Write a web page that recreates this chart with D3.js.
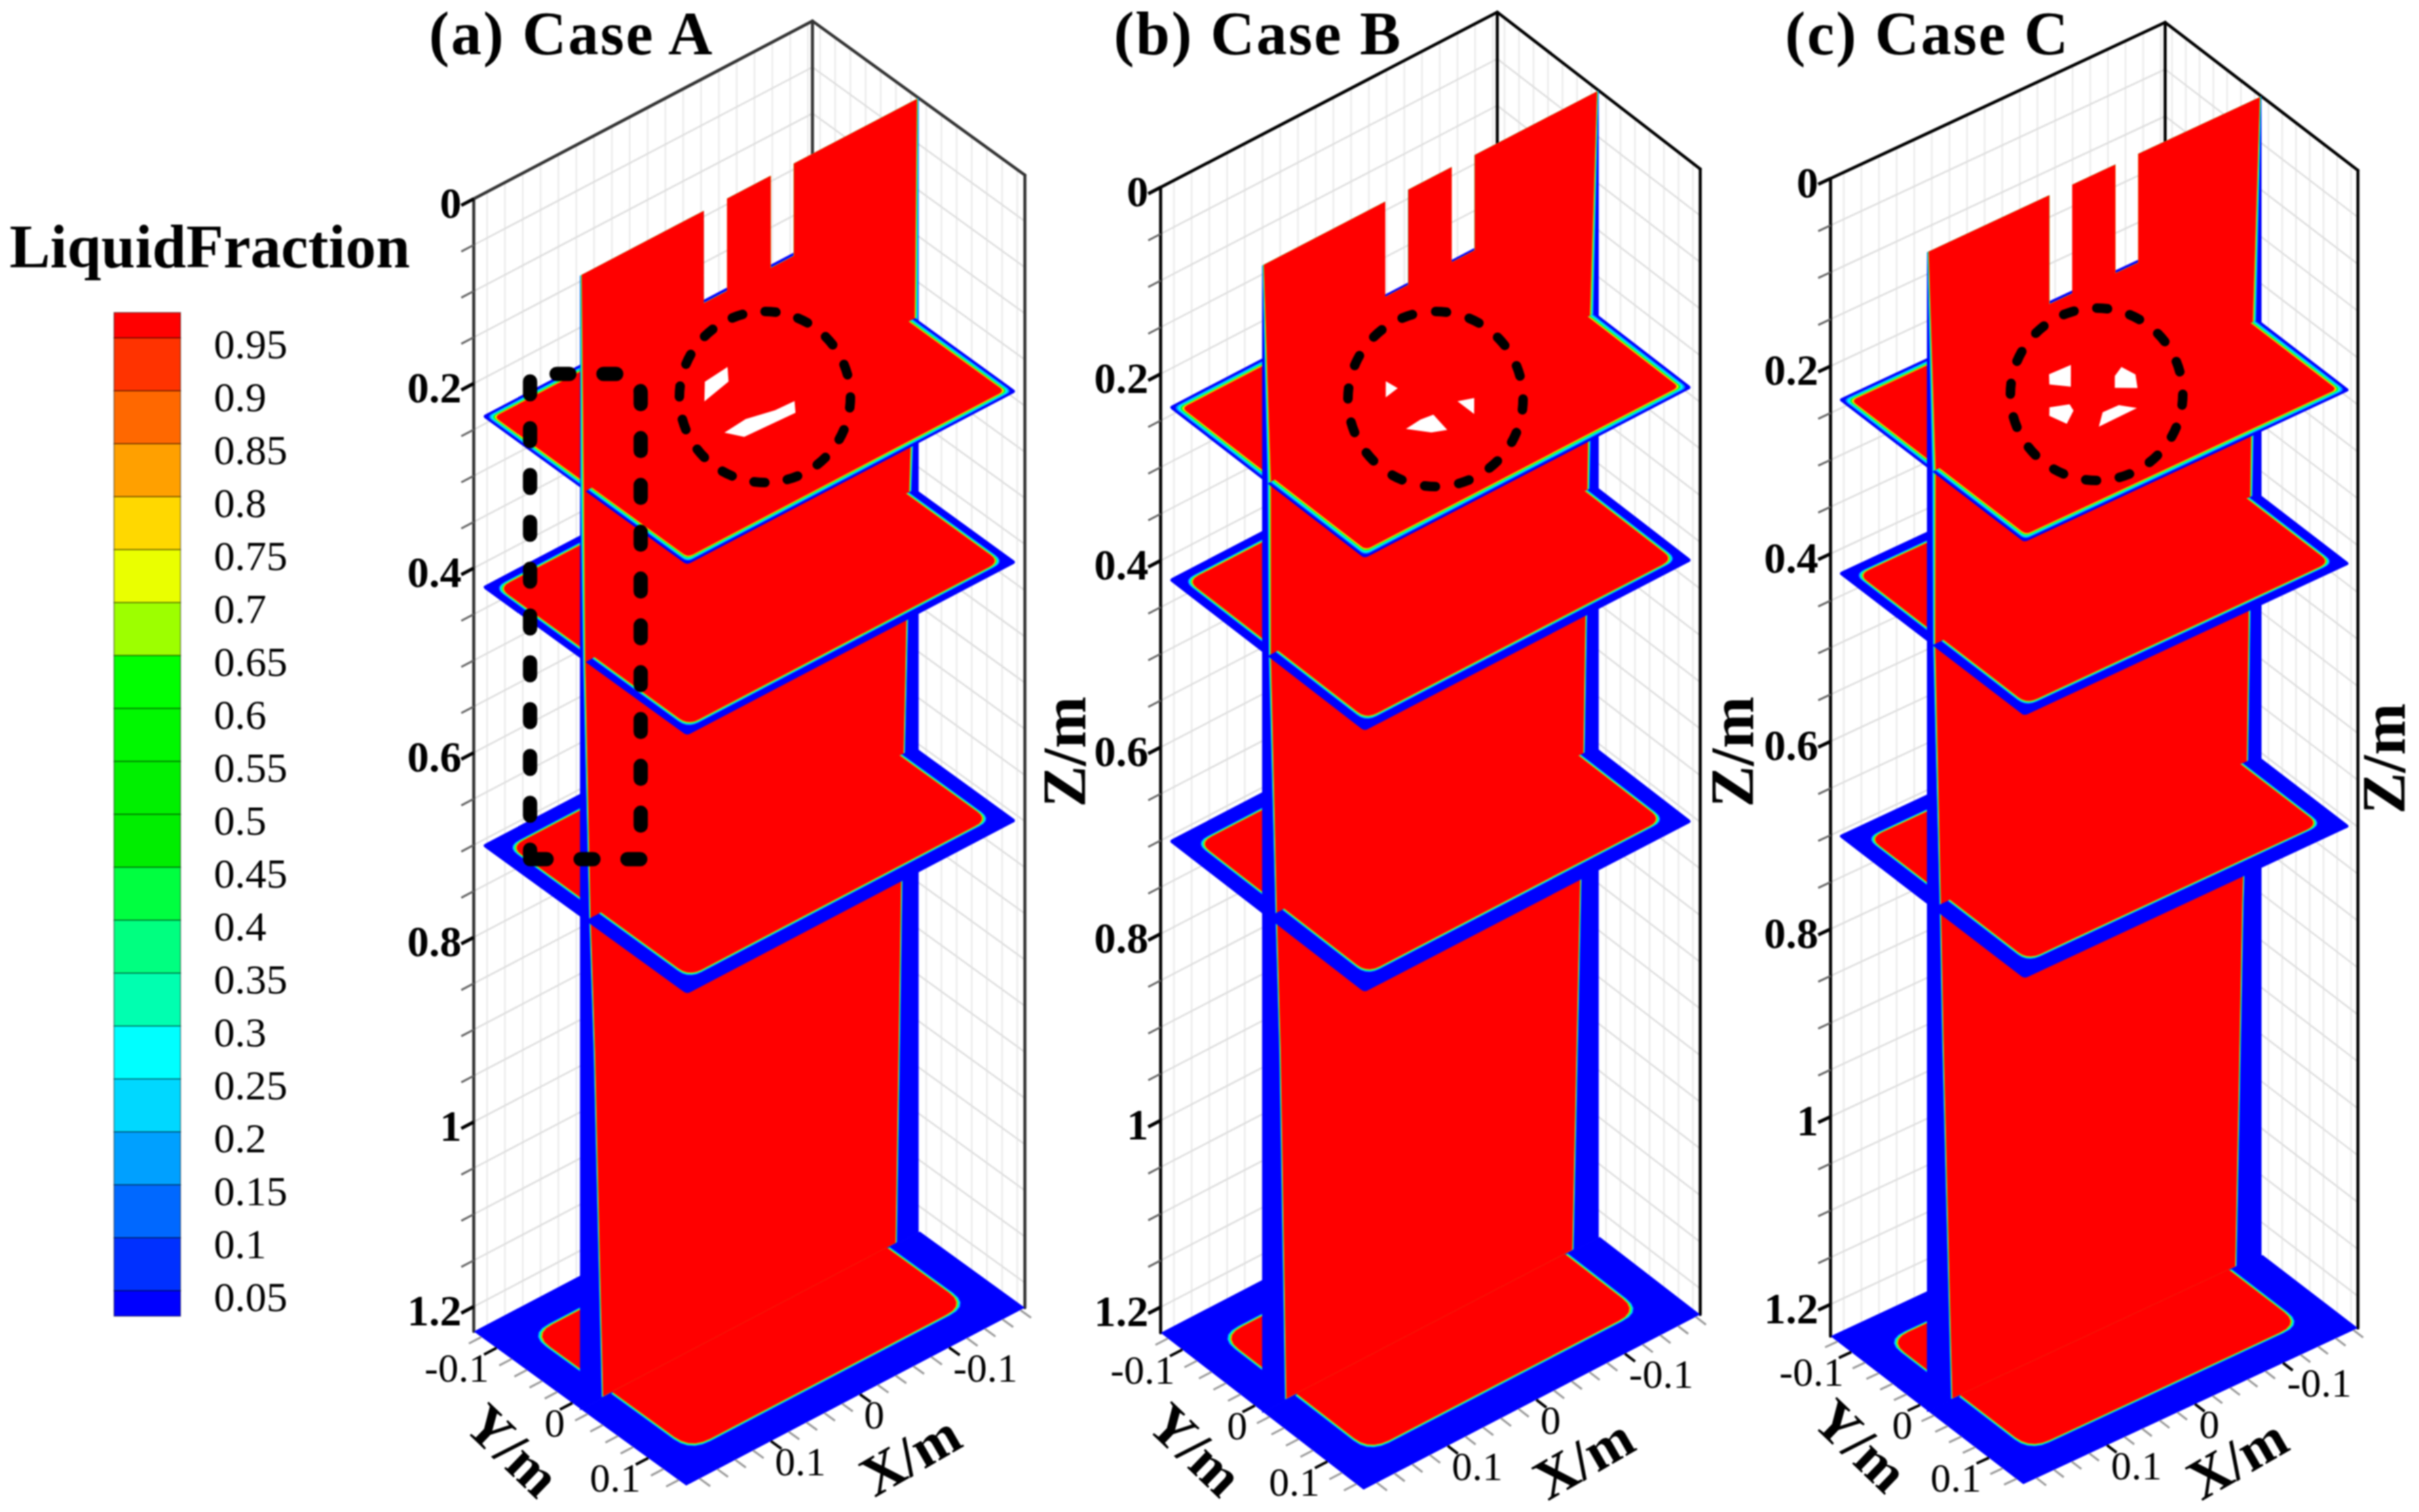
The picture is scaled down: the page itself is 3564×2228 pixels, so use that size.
<!DOCTYPE html>
<html>
<head>
<meta charset="utf-8">
<script src="https://cdn.jsdelivr.net/npm/d3@7"></script>
<style>
    body { margin: 0; background: #fff; }
    svg { filter: blur(0.8px); }
    text { font-family: "Liberation Serif", serif; fill: #000; }
</style>
</head>
<body>
<script>
// legend
const legendLabels = [0.95, 0.9, 0.85, 0.8, 0.75, 0.7, 0.65, 0.6, 0.55, 0.5, 0.45, 0.4, 0.35, 0.3, 0.25, 0.2, 0.15, 0.1, 0.05];
const legendColors = ["#ff0000", "#ff3300", "#ff6800", "#ffa000", "#ffd800", "#eaff00", "#9dff00", "#00ff00", "#00f800",
    "#00f000", "#00ee00", "#00ff40", "#00ff80", "#00ffb0", "#00ffff", "#00d8ff", "#00a0ff", "#0068ff", "#0030ff", "#0000ff"];
// colours crossed going in from the wall to the liquid core
const bandColors = ["#0000ff", "#0068ff", "#00a0ff", "#00d8ff", "#00ffff", "#00ff80", "#00f000", "#eaff00", "#ffa000", "#ff0000"];

// axes
const xMin = -0.185, xMax = 0.195, yMin = -0.13, yMax = 0.15;
const xTicks = [-0.1, 0, 0.1], yTicks = [-0.1, 0, 0.1];
const zTicks = [0, 0.2, 0.4, 0.6, 0.8, 1, 1.2];
const xMinorTicks = d3.range(-0.18, 0.19, 0.02);
const yMinorTicks = d3.range(-0.12, 0.15, 0.02);
const zMinorTicks = d3.range(0, 1.21, 0.05);
const wallXLines = d3.range(-0.18, 0.19, 0.02);
const wallYLines = d3.range(-0.12, 0.15, 0.02);

// the three cases
const caseTitles = ["(a) Case A", "(b) Case B", "(c) Case C"];
const caseTitleX = [632, 1641, 2630];
const caseLeftTop = [[698, 293], [1710, 276], [2697, 263]];
const caseXVec = [[499, -262], [496, -258], [493, -230]];
const caseYVec = [[313, 227], [299, 231], [284, 218]];
const caseHeight = [1669, 1688, 1706];
const caseZMax = [1.227, 1.2276, 1.234];
const caseAxisColor = ["#333", "#000", "#000"];
const caseZLabelPos = [[1568, 1108], [2552, 1108], [3512, 1118]];
const caseXLabelOff = [[330, -45], [324, -46], [315, -38]];
const caseYLabelOff = [[-255, -52], [-247, -59], [-239, -57]];
const caseCircle = [[1127, 585, 126], [2115, 588, 129], [3089, 581, 127]];

// plates: the last one is the bottom of the column
const plateZ = [0.235, 0.42, 0.70];
const plateInset = [0.005, 0.005, 0.005, 0];
const plateRound = [0.006, 0.012, 0.014, 0.022];
const plateBlue = [
    [0.002, 0.0068, 0.0145, 0.033],
    [0.002, 0.0085, 0.016, 0.0355],
    [0.0022, 0.0095, 0.017, 0.0345]
];
const plateBand = [
    [0.0055, 0.0035, 0.003, 0.003],
    [0.0064, 0.0035, 0.003, 0.003],
    [0.0063, 0.0035, 0.003, 0.003]
];

// vertical section at y = sectionY
const sectionY = 0.01;
const slots = [[0.056, 0.030], [-0.019, -0.045]];
const slotDepth = [0.1, 0.102, 0.116];
const sectionZ = [0, 0.235, 0.42, 0.70, 0.85, 1.25];
const sectionLeft = [
    [0.002, 0.004, 0.006, 0.012, 0.017, 0.026],
    [0.002, 0.010, 0.010, 0.0167, 0.021, 0.0275],
    [0.002, 0.010, 0.0095, 0.016, 0.019, 0.029]
];
const sectionRight = [
    [0.002, 0.0045, 0.0107, 0.017, 0.02, 0.026],
    [0.002, 0.010, 0.013, 0.0175, 0.0215, 0.03],
    [0.002, 0.010, 0.013, 0.0168, 0.022, 0.03]
];
const sectionBand = [0.002, 0.0045, 0.003, 0.002, 0.002, 0.002];

// openings in the top plate
const holes = [
    [
        [[0.014, -0.038], [-0.014, -0.041], [-0.0015, -0.025], [0.032, -0.0175]],
        [[0.047, 0.0265], [0.021, 0.024], [-0.006, 0.031], [-0.027, 0.032], [-0.017, 0.045], [0.038, 0.042]]
    ],
    [
        [[0.021, -0.032], [0.019, -0.018], [0.035, -0.015]],
        [[-0.010, 0.029], [-0.024, 0.035], [-0.010, 0.052]],
        [[0.049, 0.030], [0.031, 0.028], [0.018, 0.030], [0.022, 0.054], [0.035, 0.048]]
    ],
    [
        [[0.018, -0.039], [-0.006, -0.038], [0.014, -0.0125], [0.027, -0.027]],
        [[-0.040, -0.008], [-0.043, 0.0085], [-0.032, 0.0256], [-0.016, 0.013], [-0.027, -0.001]],
        [[0.048, 0], [0.031, 0.0075], [0.034, 0.017], [0.051, 0.029], [0.056, 0.010]],
        [[-0.003, 0.0355], [-0.013, 0.049], [0.031, 0.050], [0.015, 0.035]]
    ]
];

const width = 3564;
const height = 2228;
const svg = d3.select("body").append("svg")
    .attr("width", width)
    .attr("height", height)
    .attr("viewBox", `0 0 ${width} ${height}`);

const toPath = d3.line();

// rounded rectangle in plate coordinates
function plateOutline(inset, r) {
    const x0 = xMin + inset, x1 = xMax - inset, y0 = yMin + inset, y1 = yMax - inset;
    const corners = [
        [x0, y0, 1, 1], [x1, y0, -1, 1], [x1, y1, -1, -1], [x0, y1, 1, -1]
    ];
    const pts = [];
    corners.forEach((c, i) => {
        const [cx, cy, sx, sy] = c;
        const first = i % 2 === 0 ? [0, sy * r] : [sx * r, 0];
        const last = i % 2 === 0 ? [sx * r, 0] : [0, sy * r];
        d3.range(0, 1.01, 0.2).forEach(t => {
            const a = (1 - t) * (1 - t), b = t * t;
            pts.push([cx + a * first[0] + b * last[0], cy + a * first[1] + b * last[1]]);
        });
    });
    return pts;
}

// keep the part of a polygon on one side of a line y = cut
function clipToSide(pts, keepBack, cut) {
    const inside = p => keepBack ? p[1] <= cut : p[1] >= cut;
    const out = [];
    pts.forEach((p, i) => {
        const q = pts[(i + 1) % pts.length];
        if (inside(p)) out.push(p);
        if (inside(p) !== inside(q)) {
            const t = (cut - p[1]) / (q[1] - p[1]);
            out.push([p[0] + t * (q[0] - p[0]), cut]);
        }
    });
    return out;
}

function drawLegend() {
    const legendY = d3.scaleLinear().domain([0.95, 0.05]).range([498, 1902]);
    const legendG = svg.append("g");
    const edges = [0.974].concat(legendLabels, [0.026]);

    legendG.append("text")
        .attr("x", 14).attr("y", 394)
        .attr("font-size", 90).attr("font-weight", "bold")
        .text("LiquidFraction");

    legendG.selectAll("rect")
        .data(legendColors)
        .enter().append("rect")
        .attr("x", 168)
        .attr("width", 98)
        .attr("y", (d, i) => legendY(edges[i]))
        .attr("height", (d, i) => legendY(edges[i + 1]) - legendY(edges[i]))
        .attr("fill", d => d)
        .attr("stroke", "#000")
        .attr("stroke-opacity", 0.45)
        .attr("stroke-width", 1.5);

    legendG.selectAll("text.level")
        .data(legendLabels)
        .enter().append("text")
        .attr("class", "level")
        .attr("x", 315)
        .attr("y", d => legendY(d) + 30)
        .attr("font-size", 62)
        .text(d => d);
}

function drawCase(i) {
    const [ox, oy] = caseLeftTop[i];
    const sxX = d3.scaleLinear().domain([xMax, xMin]).range([0, caseXVec[i][0]]);
    const sxY = d3.scaleLinear().domain([xMax, xMin]).range([0, caseXVec[i][1]]);
    const syX = d3.scaleLinear().domain([yMin, yMax]).range([0, caseYVec[i][0]]);
    const syY = d3.scaleLinear().domain([yMin, yMax]).range([0, caseYVec[i][1]]);
    const sz = d3.scaleLinear().domain([0, caseZMax[i]]).range([0, caseHeight[i]]);
    const project = (x, y, z) => [ox + sxX(x) + syX(y), oy + sxY(x) + syY(y) + sz(z)];
    const zBottom = caseZMax[i];
    const allPlateZ = plateZ.concat([zBottom]);

    const g = svg.append("g").attr("class", "case");

    // wall grid
    const wallLines = [];
    wallXLines.forEach(x => wallLines.push({ a: project(x, yMin, 0), b: project(x, yMin, zBottom), c: "#ececec" }));
    wallYLines.forEach(y => wallLines.push({ a: project(xMin, y, 0), b: project(xMin, y, zBottom), c: "#ececec" }));
    zMinorTicks.slice(1).forEach(z => {
        wallLines.push({ a: project(xMax, yMin, z), b: project(xMin, yMin, z), c: "#dedede" });
        wallLines.push({ a: project(xMin, yMin, z), b: project(xMin, yMax, z), c: "#dedede" });
    });
    g.append("g").selectAll("line")
        .data(wallLines)
        .enter().append("line")
        .attr("x1", d => d.a[0]).attr("y1", d => d.a[1])
        .attr("x2", d => d.b[0]).attr("y2", d => d.b[1])
        .attr("stroke", d => d.c)
        .attr("stroke-width", 2.5);

    // box edges
    const boxEdges = [
        [project(xMax, yMin, 0), project(xMin, yMin, 0)],
        [project(xMin, yMin, 0), project(xMin, yMax, 0)],
        [project(xMax, yMin, 0), project(xMax, yMin, zBottom)],
        [project(xMin, yMax, 0), project(xMin, yMax, zBottom)],
        [project(xMin, yMin, 0), project(xMin, yMin, zBottom)]
    ];
    g.append("g").selectAll("path")
        .data(boxEdges)
        .enter().append("path")
        .attr("d", toPath)
        .attr("fill", "none")
        .attr("stroke", caseAxisColor[i])
        .attr("stroke-width", 4.5)
        .attr("stroke-linecap", "round");

    // one plate cut at the section, outer blue first then the coloured rim
    function drawPlate(parent, k, keepBack) {
        const z = allPlateZ[k];
        const lastBand = bandColors.length - 1;
        const layers = [{ inset: plateInset[k], r: plateInset[k] ? 0.004 : 0, color: bandColors[0], n: 0 }];
        bandColors.slice(1).forEach((c, n) => {
            layers.push({
                inset: plateInset[k] + plateBlue[i][k] + plateBand[i][k] * (n + 1) / lastBand,
                r: plateRound[k],
                color: c,
                n: n + 1
            });
        });
        parent.append("g").selectAll("path")
            .data(layers)
            .enter().append("path")
            .attr("d", d => {
                // rim colours stop just short of the section so that no seam shows through the red
                const cut = keepBack || d.n === lastBand ? sectionY : sectionY + 0.0015;
                const pts = clipToSide(plateOutline(d.inset, d.r), keepBack, cut);
                return pts.length ? toPath(pts.map(p => project(p[0], p[1], z))) + "Z" : null;
            })
            .attr("fill", d => d.color);
    }

    // back halves, lowest first
    const plateOrder = [3, 2, 1, 0];
    plateOrder.forEach(k => drawPlate(g, k, true));

    // vertical section
    const sectionLayers = bandColors.map((c, n) => ({ n, color: c }));
    g.append("g").selectAll("path")
        .data(sectionLayers)
        .enter().append("path")
        .attr("d", d => {
            const f = d.n / (bandColors.length - 1);
            const side = arr => sectionZ.map((z, j) => d.n === 0 ? 0 : Math.max(arr[j] - sectionBand[j], 0) + sectionBand[j] * f);
            const left = side(sectionLeft[i]);
            const right = side(sectionRight[i]);
            const depth = slotDepth[i];
            const keep = z => z < zBottom;
            // the outer blue runs a little past the bottom plate to close the gap at the section
            const foot = d.n === 0 ? zBottom + 0.002 : zBottom;
            const pts = [[xMax - left[0], 0]];
            slots.forEach(s => {
                pts.push([s[0], 0], [s[0], depth], [s[1], depth], [s[1], 0]);
            });
            sectionZ.forEach((z, j) => { if (keep(z)) pts.push([xMin + right[j], z]); });
            pts.push([xMin + right[sectionZ.length - 1], foot]);
            pts.push([xMax - left[sectionZ.length - 1], foot]);
            sectionZ.slice().reverse().forEach((z, j) => {
                if (keep(z)) pts.push([xMax - left[sectionZ.length - 1 - j], z]);
            });
            return toPath(pts.map(p => project(p[0], sectionY, p[1]))) + "Z";
        })
        .attr("fill", d => d.color);

    // front halves, lowest first
    plateOrder.forEach(k => drawPlate(g, k, false));

    // openings in the top plate
    g.append("g").selectAll("path")
        .data(holes[i])
        .enter().append("path")
        .attr("d", d => toPath(d.map(p => project(p[0], p[1], plateZ[0]))) + "Z")
        .attr("fill", "#fff");

    // z axis
    g.append("g").selectAll("line")
        .data(zMinorTicks)
        .enter().append("line")
        .each(function(z) {
            const a = project(xMax, yMin, z), b = project(xMax + 0.014, yMin, z);
            d3.select(this).attr("x1", a[0]).attr("y1", a[1]).attr("x2", b[0]).attr("y2", b[1]);
        })
        .attr("stroke", z => zTicks.some(t => Math.abs(t - z) < 1e-6) ? "#000" : "#666")
        .attr("stroke-width", z => zTicks.some(t => Math.abs(t - z) < 1e-6) ? 5 : 3);

    g.append("g").selectAll("text")
        .data(zTicks)
        .enter().append("text")
        .attr("x", ox - 18)
        .attr("y", z => project(xMax, yMin, z)[1] + 28)
        .attr("text-anchor", "end")
        .attr("font-size", 64)
        .attr("font-weight", "bold")
        .text(z => z);

    // x and y ticks under the bottom plate
    const baseTicks = [];
    xMinorTicks.forEach(x => baseTicks.push({ a: project(x, yMax, zBottom), b: project(x, yMax + 0.014, zBottom), major: xTicks.some(t => Math.abs(t - x) < 1e-6) }));
    yMinorTicks.forEach(y => baseTicks.push({ a: project(xMax, y, zBottom), b: project(xMax + 0.014, y, zBottom), major: yTicks.some(t => Math.abs(t - y) < 1e-6) }));
    g.append("g").selectAll("line")
        .data(baseTicks)
        .enter().append("line")
        .attr("x1", d => d.a[0]).attr("y1", d => d.a[1])
        .attr("x2", d => d.b[0]).attr("y2", d => d.b[1])
        .attr("stroke", d => d.major ? "#000" : "#999")
        .attr("stroke-width", d => d.major ? 4 : 3);

    g.append("g").selectAll("text")
        .data(xTicks)
        .enter().append("text")
        .attr("x", d => project(d, yMax, zBottom)[0] + 6)
        .attr("y", d => project(d, yMax, zBottom)[1] + 50)
        .attr("font-size", 60)
        .text(d => d);

    g.append("g").selectAll("text")
        .data(yTicks)
        .enter().append("text")
        .attr("x", d => project(xMax, d, zBottom)[0] - 11)
        .attr("y", d => project(xMax, d, zBottom)[1] + 50)
        .attr("text-anchor", "end")
        .attr("font-size", 60)
        .text(d => d);

    // titles and axis names
    g.append("text")
        .attr("x", caseTitleX[i]).attr("y", 80)
        .attr("font-size", 90).attr("font-weight", "bold")
        .attr("letter-spacing", 2.5)
        .text(caseTitles[i]);

    const front = project(xMax, yMax, zBottom);
    const axisNames = [
        { t: "Z/m", x: caseZLabelPos[i][0], y: caseZLabelPos[i][1], a: -90, s: 92 },
        { t: "X/m", x: front[0] + caseXLabelOff[i][0], y: front[1] + caseXLabelOff[i][1], a: -30, s: 84 },
        { t: "Y/m", x: front[0] + caseYLabelOff[i][0], y: front[1] + caseYLabelOff[i][1], a: 44, s: 84 }
    ];
    g.append("g").selectAll("text")
        .data(axisNames)
        .enter().append("text")
        .attr("transform", d => `translate(${d.x},${d.y}) rotate(${d.a})`)
        .attr("text-anchor", "middle")
        .attr("dominant-baseline", "central")
        .attr("font-size", d => d.s)
        .attr("font-weight", "bold")
        .text(d => d.t);

    // dashed circle marking the openings
    const [cx, cy, cr] = caseCircle[i];
    const period = 2 * Math.PI * cr / 16;
    g.append("circle")
        .attr("cx", cx).attr("cy", cy).attr("r", cr)
        .attr("fill", "none")
        .attr("stroke", "#000")
        .attr("stroke-width", 14)
        .attr("stroke-linecap", "round")
        .attr("stroke-dasharray", `16 ${period - 16}`);
}

drawLegend();
caseTitles.forEach((t, i) => drawCase(i));

// dashed frame in case A
svg.append("path")
    .attr("d", "M781,1266V551H914Q944,551 944,581V1266Z")
    .attr("fill", "none")
    .attr("stroke", "#000")
    .attr("stroke-width", 21)
    .attr("stroke-linecap", "round")
    .attr("stroke-dasharray", "19 50")
    .attr("stroke-dashoffset", 5);
</script>
</body>
</html>
